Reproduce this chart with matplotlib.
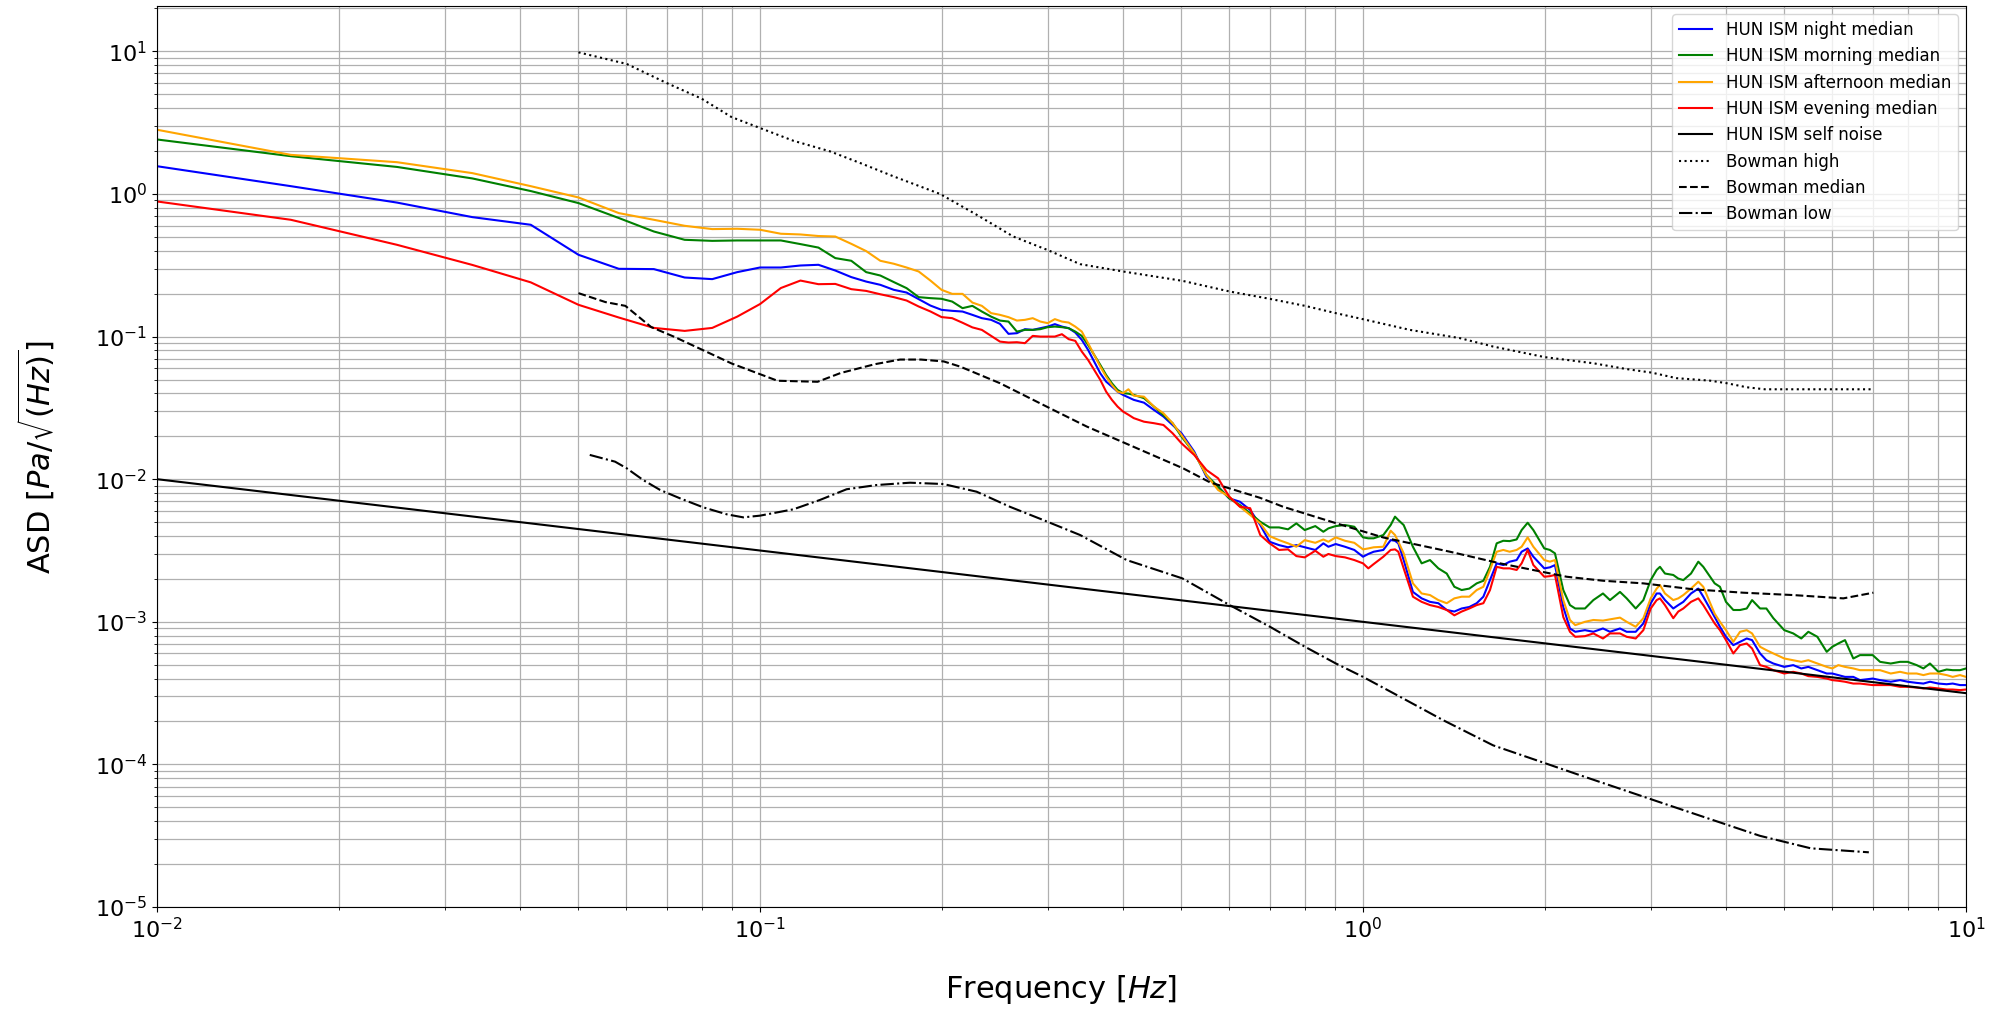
import matplotlib
matplotlib.use("Agg")
import matplotlib.pyplot as plt

# shared frequency axis of the HUN ISM medians [Hz]
freq = [0.01, 0.01667, 0.025, 0.03333, 0.04167, 0.05, 0.05833, 0.06667, 0.075, 0.08333,
        0.09167, 0.1, 0.1083, 0.1167, 0.125, 0.1333, 0.1417, 0.15, 0.1583, 0.1667,
        0.175, 0.1833, 0.1917, 0.2, 0.2083, 0.2167, 0.225, 0.2333, 0.2417, 0.25,
        0.2583, 0.2667, 0.275, 0.2833, 0.2917, 0.3, 0.3083, 0.3167, 0.325, 0.3333,
        0.3417, 0.35, 0.3583, 0.3667, 0.375, 0.3833, 0.3917, 0.4, 0.4083, 0.4167,
        0.4333, 0.45, 0.4667, 0.4833, 0.5, 0.525, 0.55, 0.575, 0.6, 0.625, 0.65,
        0.6755, 0.700, 0.7257, 0.7511, 0.7753, 0.8005, 0.8335, 0.8595, 0.8762, 0.901,
        0.9335, 0.9674, 1.0, 1.0205, 1.0416, 1.0807, 1.1115, 1.130, 1.1444, 1.168,
        1.210, 1.251, 1.2916, 1.3334, 1.3767, 1.4174, 1.4575, 1.5008, 1.5436, 1.5835,
        1.624, 1.666, 1.7087, 1.7506, 1.798, 1.8327, 1.8754, 1.9165, 1.9982, 2.042,
        2.0814, 2.1486,
        2.204, 2.249, 2.334, 2.41, 2.5, 2.568, 2.668, 2.737, 2.833, 2.917,
        3.0, 3.069, 3.108, 3.168, 3.27, 3.333, 3.398, 3.499, 3.598, 3.667,
        3.83, 3.908, 3.999, 4.113, 4.219, 4.329, 4.418, 4.555, 4.666, 4.792,
        4.996, 5.17, 5.331, 5.477, 5.669, 5.875, 6.002, 6.142, 6.3, 6.503,
        6.671, 7.003, 7.202, 7.502, 7.774, 8.003, 8.283, 8.499, 8.715, 8.999,
        9.288, 9.504, 9.775, 10.0]

night = [1.565, 1.134, 0.870, 0.688, 0.608, 0.3745, 0.2986, 0.2972, 0.2595, 0.2528,
         0.283, 0.305, 0.305, 0.315, 0.3186, 0.2905, 0.2612, 0.243, 0.2306, 0.2127,
         0.2036, 0.183, 0.165, 0.154, 0.1515, 0.1498, 0.142, 0.1346, 0.131, 0.1228,
         0.1045, 0.1056, 0.1127, 0.1114, 0.1145, 0.1175, 0.1222, 0.1175, 0.1145, 0.1067,
         0.0948, 0.0807, 0.0668, 0.0553, 0.0483, 0.0446, 0.0411, 0.039, 0.0375, 0.036,
         0.0344, 0.0306, 0.0275, 0.024, 0.021, 0.0156, 0.0104, 0.00886, 0.00734, 0.00695,
         0.00608,
         4.77e-3, 3.64e-3, 3.45e-3, 3.33e-3, 3.45e-3, 3.33e-3, 3.19e-3, 3.55e-3, 3.36e-3, 3.51e-3,
         3.36e-3, 3.19e-3, 2.86e-3, 2.99e-3, 3.10e-3, 3.19e-3, 3.74e-3, 3.70e-3, 3.55e-3, 2.71e-3,
         1.62e-3, 1.46e-3, 1.38e-3, 1.35e-3, 1.21e-3, 1.18e-3, 1.24e-3, 1.27e-3, 1.35e-3, 1.50e-3,
         1.96e-3, 2.57e-3, 2.50e-3, 2.64e-3, 2.71e-3, 3.10e-3, 3.27e-3, 2.86e-3, 2.37e-3, 2.41e-3,
         2.50e-3, 1.27e-3,
         0.898e-3, 0.851e-3, 0.874e-3, 0.851e-3, 0.898e-3, 0.851e-3, 0.898e-3, 0.851e-3, 0.851e-3, 0.974e-3,
         1.35e-3, 1.58e-3, 1.58e-3, 1.42e-3, 1.24e-3, 1.31e-3, 1.38e-3, 1.58e-3, 1.71e-3, 1.50e-3,
         1.08e-3, 0.923e-3, 0.785e-3, 0.686e-3, 0.724e-3, 0.764e-3, 0.744e-3, 0.600e-3, 0.538e-3, 0.510e-3,
         0.483e-3, 0.497e-3, 0.471e-3, 0.483e-3, 0.458e-3, 0.434e-3, 0.434e-3, 0.423e-3, 0.411e-3, 0.411e-3,
         0.390e-3, 0.400e-3, 0.390e-3, 0.380e-3, 0.390e-3, 0.380e-3, 0.373e-3, 0.369e-3, 0.380e-3, 0.369e-3,
         0.365e-3, 0.369e-3, 0.360e-3, 0.360e-3]

morning = [2.41, 1.84, 1.547, 1.285, 1.048, 0.863, 0.678, 0.5455, 0.477, 0.469,
           0.472, 0.472, 0.472, 0.445, 0.4207, 0.355, 0.340, 0.283, 0.268, 0.241,
           0.2186, 0.189, 0.186, 0.184, 0.176, 0.1582, 0.1642, 0.1498, 0.138, 0.1295,
           0.1274, 0.1084, 0.1114, 0.1114, 0.1127, 0.1164, 0.1175, 0.1164, 0.1145, 0.1084,
           0.1011, 0.0874, 0.0744, 0.0633, 0.0538, 0.0471, 0.0423, 0.0401, 0.0398, 0.039,
           0.037, 0.0323, 0.0282, 0.0247, 0.0199, 0.0152, 0.0107, 0.00886, 0.00734, 0.00659,
           0.00576,
           5.03e-3, 4.59e-3, 4.59e-3, 4.45e-3, 4.90e-3, 4.40e-3, 4.69e-3, 4.28e-3, 4.52e-3, 4.69e-3,
           4.77e-3, 4.64e-3, 3.91e-3, 3.85e-3, 3.85e-3, 4.06e-3, 4.77e-3, 5.46e-3, 5.17e-3, 4.77e-3,
           3.36e-3, 2.57e-3, 2.71e-3, 2.37e-3, 2.18e-3, 1.76e-3, 1.67e-3, 1.71e-3, 1.86e-3, 1.94e-3,
           2.43e-3, 3.55e-3, 3.70e-3, 3.68e-3, 3.78e-3, 4.40e-3, 4.95e-3, 4.40e-3, 3.27e-3, 3.19e-3,
           3.02e-3, 1.67e-3,
           1.31e-3, 1.24e-3, 1.24e-3, 1.42e-3, 1.58e-3, 1.42e-3, 1.62e-3, 1.46e-3, 1.24e-3, 1.42e-3,
           1.96e-3, 2.31e-3, 2.43e-3, 2.18e-3, 2.13e-3, 2.01e-3, 1.96e-3, 2.18e-3, 2.64e-3, 2.43e-3,
           1.86e-3, 1.76e-3, 1.38e-3, 1.21e-3, 1.21e-3, 1.24e-3, 1.42e-3, 1.24e-3, 1.24e-3, 1.06e-3,
           0.874e-3, 0.829e-3, 0.764e-3, 0.851e-3, 0.785e-3, 0.616e-3, 0.668e-3, 0.705e-3, 0.744e-3, 0.553e-3,
           0.584e-3, 0.584e-3, 0.524e-3, 0.510e-3, 0.524e-3, 0.524e-3, 0.497e-3, 0.471e-3, 0.510e-3, 0.446e-3,
           0.463e-3, 0.458e-3, 0.458e-3, 0.471e-3]

afternoon = [2.82, 1.88, 1.67, 1.40, 1.134, 0.945, 0.734, 0.659, 0.598, 0.567,
             0.570, 0.561, 0.526, 0.520, 0.507, 0.503, 0.447, 0.3975, 0.340, 0.324,
             0.305, 0.286, 0.247, 0.2127, 0.1993, 0.1993, 0.1732, 0.1642, 0.146, 0.142,
             0.1368, 0.1295, 0.131, 0.1346, 0.1274, 0.1242, 0.1325, 0.1274, 0.1254, 0.1175,
             0.1084, 0.0899, 0.0744, 0.0616, 0.0524, 0.0458, 0.0411, 0.0401, 0.0427, 0.0385,
             0.0379, 0.0323, 0.029, 0.0247, 0.0204, 0.0152, 0.0107, 0.0084, 0.00754, 0.00641,
             0.00561,
             4.90e-3, 3.99e-3, 3.74e-3, 3.55e-3, 3.36e-3, 3.74e-3, 3.58e-3, 3.78e-3, 3.64e-3, 3.91e-3,
             3.70e-3, 3.58e-3, 3.22e-3, 3.27e-3, 3.33e-3, 3.36e-3, 4.35e-3, 4.06e-3, 3.64e-3, 3.02e-3,
             1.86e-3, 1.58e-3, 1.54e-3, 1.42e-3, 1.35e-3, 1.46e-3, 1.50e-3, 1.50e-3, 1.67e-3, 1.76e-3,
             2.31e-3, 3.10e-3, 3.19e-3, 3.10e-3, 3.19e-3, 3.36e-3, 3.91e-3, 3.36e-3, 2.71e-3, 2.64e-3,
             2.71e-3, 1.42e-3,
             1.03e-3, 0.948e-3, 1.00e-3, 1.03e-3, 1.02e-3, 1.04e-3, 1.07e-3, 1.00e-3, 0.923e-3, 1.06e-3,
             1.46e-3, 1.71e-3, 1.81e-3, 1.58e-3, 1.42e-3, 1.46e-3, 1.54e-3, 1.71e-3, 1.91e-3, 1.76e-3,
             1.14e-3, 1.00e-3, 0.874e-3, 0.724e-3, 0.851e-3, 0.874e-3, 0.829e-3, 0.668e-3, 0.633e-3, 0.600e-3,
             0.553e-3, 0.538e-3, 0.524e-3, 0.538e-3, 0.510e-3, 0.483e-3, 0.471e-3, 0.497e-3, 0.483e-3, 0.471e-3,
             0.458e-3, 0.458e-3, 0.458e-3, 0.434e-3, 0.446e-3, 0.434e-3, 0.434e-3, 0.423e-3, 0.434e-3, 0.434e-3,
             0.423e-3, 0.411e-3, 0.423e-3, 0.411e-3]

evening = [0.886, 0.659, 0.440, 0.318, 0.240, 0.167, 0.136, 0.115, 0.1096, 0.115,
           0.138, 0.169, 0.219, 0.247, 0.233, 0.234, 0.215, 0.209, 0.198, 0.189,
           0.179, 0.1625, 0.150, 0.137, 0.1346, 0.125, 0.116, 0.1114, 0.1011, 0.0922,
           0.0908, 0.0913, 0.0899, 0.1011, 0.100, 0.100, 0.100, 0.1039, 0.0959, 0.0933,
           0.0785, 0.0686, 0.0584, 0.0497, 0.0411, 0.036, 0.0323, 0.0298, 0.0283, 0.0268,
           0.0253, 0.0247, 0.024, 0.021, 0.01786, 0.01478, 0.0116, 0.01015, 0.00754, 0.00641,
           0.00626,
           4.06e-3, 3.55e-3, 3.19e-3, 3.22e-3, 2.89e-3, 2.83e-3, 3.15e-3, 2.86e-3, 2.99e-3, 2.89e-3,
           2.83e-3, 2.71e-3, 2.57e-3, 2.37e-3, 2.54e-3, 2.86e-3, 3.19e-3, 3.22e-3, 3.10e-3, 2.37e-3,
           1.50e-3, 1.38e-3, 1.31e-3, 1.27e-3, 1.21e-3, 1.11e-3, 1.18e-3, 1.24e-3, 1.31e-3, 1.35e-3,
           1.67e-3, 2.43e-3, 2.37e-3, 2.37e-3, 2.31e-3, 2.57e-3, 3.19e-3, 2.50e-3, 2.07e-3, 2.09e-3,
           2.13e-3, 1.08e-3,
           0.851e-3, 0.785e-3, 0.793e-3, 0.829e-3, 0.764e-3, 0.829e-3, 0.829e-3, 0.785e-3, 0.764e-3, 0.874e-3,
           1.24e-3, 1.42e-3, 1.46e-3, 1.31e-3, 1.06e-3, 1.18e-3, 1.24e-3, 1.38e-3, 1.46e-3, 1.31e-3,
           0.974e-3, 0.874e-3, 0.744e-3, 0.600e-3, 0.686e-3, 0.705e-3, 0.650e-3, 0.497e-3, 0.483e-3, 0.458e-3,
           0.434e-3, 0.446e-3, 0.434e-3, 0.416e-3, 0.411e-3, 0.400e-3, 0.390e-3, 0.386e-3, 0.380e-3, 0.369e-3,
           0.369e-3, 0.360e-3, 0.360e-3, 0.360e-3, 0.350e-3, 0.350e-3, 0.346e-3, 0.341e-3, 0.346e-3, 0.341e-3,
           0.335e-3, 0.335e-3, 0.332e-3, 0.335e-3]

# sensor self noise (straight line in log-log)
self_noise_freq = [0.01, 10.0]
self_noise = [1.0e-2, 3.16e-4]

# Bowman reference models
bowman_high_freq = [0.05, 0.0601, 0.07, 0.080, 0.0897, 0.1, 0.1136, 0.1306, 0.1465, 0.1664,
                    0.1989, 0.2287, 0.263, 0.301, 0.3395, 0.4004, 0.5017, 0.601, 0.7012, 0.8014,
                    0.901, 1.0, 1.196, 1.448, 1.644, 2.004, 2.41, 2.74, 3.01, 3.31,
                    3.76, 4.01, 4.33, 4.64, 7.0]
bowman_high = [9.84, 8.16, 6.0, 4.66, 3.46, 2.90, 2.36, 1.99, 1.65, 1.33,
               1.0, 0.715, 0.503, 0.402, 0.322, 0.2858, 0.246, 0.207, 0.1838, 0.1642,
               0.146, 0.1324, 0.1114, 0.0975, 0.0851, 0.0717, 0.065, 0.0591, 0.0559, 0.0511,
               0.0491, 0.0471, 0.0441, 0.0427, 0.0427]

bowman_med_freq = [0.05, 0.0554, 0.0598, 0.066, 0.072, 0.0804, 0.0897, 0.1069, 0.1246, 0.136,
                   0.155, 0.1707, 0.1849, 0.2018, 0.2147, 0.250, 0.2987, 0.3482, 0.416, 0.5035,
                   0.5575, 0.675, 0.7377, 0.904, 1.081, 1.394, 1.687, 2.177, 2.503, 2.917,
                   3.53, 4.27, 5.17, 6.26, 7.02]
bowman_med = [0.2016, 0.1746, 0.1642, 0.1166, 0.0998, 0.0804, 0.0648, 0.049, 0.0482, 0.0555,
              0.064, 0.069, 0.069, 0.0669, 0.0616, 0.0471, 0.0323, 0.0234, 0.0169, 0.0119,
              0.0095, 0.0074, 0.0064, 0.0049, 0.0039, 0.0031, 0.00257, 0.00207, 0.00194, 0.00186,
              0.00169, 0.0016, 0.00154, 0.00146, 0.0016]

bowman_low_freq = [0.0522, 0.0575, 0.0601, 0.064, 0.0683, 0.0737, 0.0805, 0.0881, 0.0938, 0.1,
                   0.1136, 0.1257, 0.1392, 0.1561, 0.1773, 0.2014, 0.2287, 0.2598, 0.295, 0.3395,
                   0.4056, 0.5017, 0.601, 0.7012, 0.8014, 0.901, 1.0, 1.152, 1.359, 1.644,
                   2.004, 2.29, 3.08, 4.55, 5.53, 6.9]
bowman_low = [0.0148, 0.01327, 0.01193, 0.00987, 0.0084, 0.00734, 0.00635, 0.00567, 0.0054, 0.00555,
              0.00615, 0.00715, 0.0085, 0.0091, 0.00945, 0.00925, 0.00817, 0.0064, 0.00517, 0.00406,
              0.00271, 0.002016, 0.00131, 0.000922, 0.000668, 0.000511, 0.000411, 0.000298, 0.000204, 0.000136,
              0.000102, 8.4e-5, 5.5e-5, 3.16e-5, 2.58e-5, 2.42e-5]

fig = plt.figure(figsize=(20, 10.13), dpi=100)
ax = fig.add_axes([0.0785, 0.1046, 0.9045, 0.8895])

ax.loglog(freq, night, color='blue', lw=1.5, label='HUN ISM night median')
ax.loglog(freq, morning, color='green', lw=1.5, label='HUN ISM morning median')
ax.loglog(freq, afternoon, color='orange', lw=1.5, label='HUN ISM afternoon median')
ax.loglog(freq, evening, color='red', lw=1.5, label='HUN ISM evening median')
ax.loglog(self_noise_freq, self_noise, color='black', lw=1.5, label='HUN ISM self noise')
ax.loglog(bowman_high_freq, bowman_high, color='black', ls=':', lw=1.5, label='Bowman high')
ax.loglog(bowman_med_freq, bowman_med, color='black', ls='--', lw=1.5, label='Bowman median')
ax.loglog(bowman_low_freq, bowman_low, color='black', ls='-.', lw=1.5, label='Bowman low')

ax.set_xlim(0.01, 10)
ax.set_ylim(1e-5, 20.8)
ax.grid(True, which='both', color='#b0b0b0', lw=0.9)
ax.tick_params(labelsize=16)

ax.set_xlabel('Frequency [$Hz$]', fontsize=22, labelpad=22)
ax.set_ylabel(r'ASD [$Pa/\sqrt{(Hz)}$]', fontsize=22, labelpad=27)
ax.legend(loc='upper right', fontsize=12)

fig.savefig('out.png', dpi=100)
